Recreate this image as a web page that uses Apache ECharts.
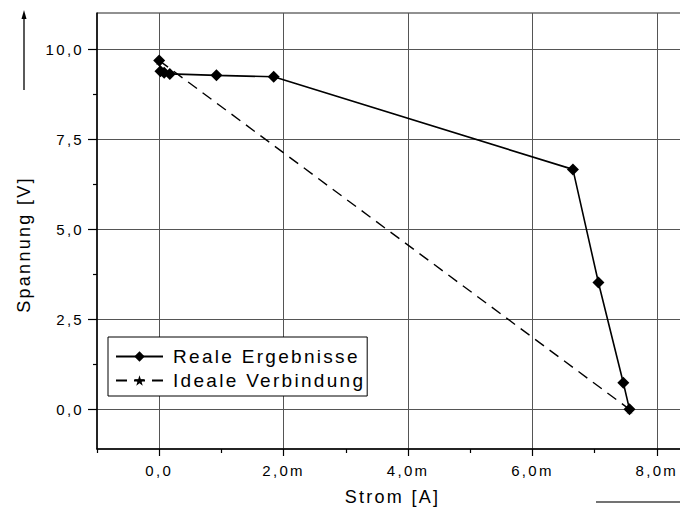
<!DOCTYPE html>
<html>
<head>
<meta charset="utf-8">
<script src="https://cdn.jsdelivr.net/npm/echarts@6/dist/echarts.min.js"></script>
<style>
  html, body { margin: 0; padding: 0; background: #fff; }
  #chart { width: 680px; height: 515px; }
  #chart text { letter-spacing: 2.3px; }
</style>
</head>
<body>
<div id="chart"></div>
<script>
// Gemessene Kennlinie (Strom in mA, Spannung in V)
const stromReal = [0, 0.02, 0.08, 0.17, 0.92, 1.84, 6.65, 7.06, 7.46, 7.56];
const spannungReal = [9.68, 9.38, 9.34, 9.31, 9.27, 9.23, 6.66, 3.52, 0.74, 0.0];

// Ideale Verbindung zwischen Leerlauf- und Kurzschlusspunkt
const stromIdeal = [0, 7.56];
const spannungIdeal = [9.68, 0.0];

// Achsenteilung
const xRange = [-1, 8.5];
const yRange = [-1.1, 11];
const xMajor = [0, 2, 4, 6, 8];
const xMinor = [-1, 1, 3, 5, 7];
const yMajor = [0, 2.5, 5, 7.5, 10];
const yMinor = [1.25, 3.75, 6.25, 8.75];

const seriesNames = ['Reale Ergebnisse', 'Ideale Verbindung'];

const FONT = 'Liberation Sans, Arial, Helvetica, sans-serif';
const STAR = 'path://M0,-10L2.35,-3.24L9.51,-3.09L3.8,1.24L5.88,8.09L0,4L-5.88,8.09L-3.8,1.24L-9.51,-3.09L-2.35,-3.24Z';

const pairs = (xs, ys) => xs.map((x, i) => [x, ys[i]]);
const komma = v => v.toFixed(1).replace('.', ',');

const chart = echarts.init(document.getElementById('chart'), null, { renderer: 'svg' });

const axisLineStyle = { color: '#000', width: 1.5 };
const tickLineStyle = { color: '#000', width: 1.2 };
const gridLineStyle = { color: '#555', width: 1 };

chart.setOption({
  animation: false,
  backgroundColor: '#fff',
  grid: {
    left: 97, top: 13, width: 591, height: 436,
    show: true, borderColor: '#222', borderWidth: 1,
    containLabel: false, outerBoundsMode: 'none'
  },
  xAxis: [
    {
      type: 'value', min: xRange[0], max: xRange[1], position: 'bottom',
      axisLine: { show: true, onZero: false, lineStyle: axisLineStyle },
      axisTick: { show: true, length: 7, customValues: xMajor, lineStyle: tickLineStyle },
      axisLabel: {
        customValues: xMajor, margin: 14, color: '#000', fontSize: 15, fontFamily: FONT,
        formatter: v => (v === 0 ? '0,0' : komma(v) + 'm')
      },
      splitLine: { show: true, lineStyle: gridLineStyle },
      name: 'Strom [A]', nameLocation: 'middle', nameGap: 39,
      nameTextStyle: { color: '#000', fontSize: 18, fontFamily: FONT }
    },
    {
      type: 'value', min: xRange[0], max: xRange[1], position: 'bottom',
      axisLine: { show: false, onZero: false },
      axisTick: { show: true, length: 4, customValues: xMinor, lineStyle: tickLineStyle },
      axisLabel: { show: false },
      splitLine: { show: false }
    }
  ],
  yAxis: [
    {
      type: 'value', min: yRange[0], max: yRange[1], position: 'left',
      axisLine: { show: true, onZero: false, lineStyle: axisLineStyle },
      axisTick: { show: true, length: 9, customValues: yMajor, lineStyle: tickLineStyle },
      axisLabel: {
        customValues: yMajor, margin: 13, color: '#000', fontSize: 15, fontFamily: FONT,
        formatter: v => komma(v)
      },
      splitLine: { show: true, lineStyle: gridLineStyle },
      name: 'Spannung [V]', nameLocation: 'middle', nameGap: 64, nameRotate: 90,
      nameTextStyle: { color: '#000', fontSize: 18, fontFamily: FONT, padding: [0, 27, 0, 0] }
    },
    {
      type: 'value', min: yRange[0], max: yRange[1], position: 'left',
      axisLine: { show: false, onZero: false },
      axisTick: { show: true, length: 4, customValues: yMinor, lineStyle: tickLineStyle },
      axisLabel: { show: false },
      splitLine: { show: false }
    }
  ],
  legend: {
    orient: 'vertical', left: 108, top: 337,
    itemWidth: 47, itemHeight: 13, itemGap: 5,
    padding: [10, 41, 6, 7],
    borderColor: '#000', borderWidth: 1, backgroundColor: '#fff',
    selectedMode: false,
    textStyle: { color: '#000', fontSize: 19, fontFamily: FONT, padding: [0, 0, 0, 5] },
    data: seriesNames
  },
  series: [
    {
      name: seriesNames[0], type: 'line', xAxisIndex: 0, yAxisIndex: 0,
      data: pairs(stromReal, spannungReal),
      symbol: 'diamond', symbolSize: 12,
      lineStyle: { color: '#000', width: 1.6 },
      itemStyle: { color: '#000' },
      z: 3
    },
    {
      name: seriesNames[1], type: 'line', xAxisIndex: 0, yAxisIndex: 0,
      data: pairs(stromIdeal, spannungIdeal),
      symbol: STAR, symbolSize: 9,
      lineStyle: { color: '#000', width: 1.4, type: [11, 7] },
      itemStyle: { color: '#000' },
      z: 2
    }
  ],
  graphic: [
    { type: 'line', shape: { x1: 24, y1: 90, x2: 24, y2: 16 }, style: { stroke: '#000', lineWidth: 1.3 } },
    { type: 'polygon', shape: { points: [[24, 10], [21.5, 19], [26.5, 19]] }, style: { fill: '#000' } },
    { type: 'line', shape: { x1: 596, y1: 502, x2: 680, y2: 502 }, style: { stroke: '#444', lineWidth: 1.5 } }
  ]
});
</script>
</body>
</html>
